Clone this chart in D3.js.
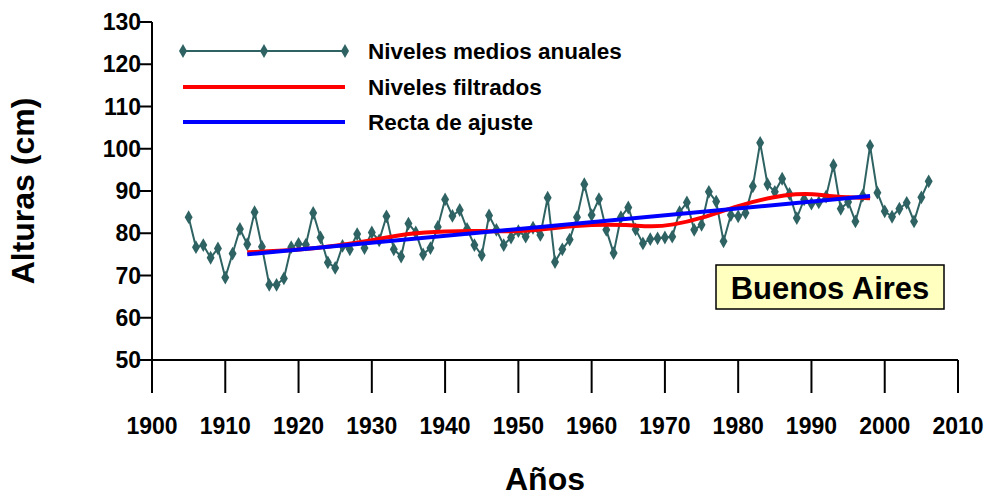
<!DOCTYPE html><html><head><meta charset="utf-8"><script src="https://cdn.jsdelivr.net/npm/d3@7"></script>
<style>body{margin:0;background:#fff}text{font-family:"Liberation Sans",Arial,sans-serif;font-weight:bold}</style></head><body>
<svg id="c" width="990" height="499"></svg>
<script>
const years = d3.range(1905, 2007);
const levels = [83.8,76.7,77.2,74.2,76.4,69.5,75.2,81.0,77.4,85.0,76.8,67.8,67.8,69.3,76.7,77.5,77.3,84.8,79.0,73.1,71.8,77.0,76.2,79.8,76.5,80.2,78.3,84.0,76.2,74.5,82.3,80.2,75.0,76.5,81.5,88.0,84.1,85.5,81.0,77.2,74.8,84.2,80.8,77.2,79.0,80.5,79.2,81.3,79.6,88.4,73.2,76.2,78.5,83.8,91.6,84.3,88.1,80.8,75.3,83.8,86.1,80.9,77.6,78.6,78.8,79.0,79.2,85.0,87.3,80.8,82.0,89.8,87.5,78.1,84.3,84.0,84.8,91.1,101.4,91.6,89.8,92.9,89.3,83.6,88.0,87.0,87.3,88.7,96.1,85.8,87.4,82.8,88.9,100.7,89.6,85.2,83.9,85.8,87.2,82.8,88.5,92.3];
const filtYears = [1913,1920,1925,1930,1935,1940,1945,1950,1955,1960,1965,1968,1971,1975,1980,1985,1988,1990,1993,1998];
const filtVals  = [75.5,76.0,77.0,78.3,80.0,80.5,80.6,80.3,81.3,82.1,82.0,81.5,81.9,83.5,86.6,88.7,89.3,89.4,88.6,88.3];
const fitYears = [1913,1998];
const fitVals = [75.0,88.8];
const xTicks = d3.range(1900,2011,10);
const yTicks = d3.range(50,131,10);
const svg = d3.select("#c");
const x = d3.scaleLinear().domain([1900,2010]).range([152,958]);
const y = d3.scaleLinear().domain([50,130]).range([360,22]);
const g=svg.append("g");
g.append("line").attr("x1",152).attr("x2",152).attr("y1",22).attr("y2",360).attr("stroke","#000").attr("stroke-width",2);
yTicks.forEach(t=>{g.append("line").attr("x1",140).attr("x2",152).attr("y1",y(t)).attr("y2",y(t)).attr("stroke","#000").attr("stroke-width",2);
 g.append("text").attr("x",141).attr("y",y(t)+8).attr("text-anchor","end").attr("font-size",23).text(t);});
g.append("line").attr("x1",152).attr("x2",958).attr("y1",360).attr("y2",360).attr("stroke","#000").attr("stroke-width",2);
xTicks.forEach(t=>{g.append("line").attr("x1",x(t)).attr("x2",x(t)).attr("y1",360).attr("y2",393).attr("stroke","#000").attr("stroke-width",2);
 g.append("text").attr("x",x(t)).attr("y",434).attr("text-anchor","middle").attr("font-size",23).text(t);});
svg.append("text").attr("x",545).attr("y",490).attr("text-anchor","middle").attr("font-size",32).text("Años");
svg.append("text").attr("transform","translate(34,191) rotate(-90)").attr("text-anchor","middle").attr("font-size",32).text("Alturas (cm)");
const line=d3.line().x(d=>x(d[0])).y(d=>y(d[1]));
const pts=years.map((yr,i)=>[yr,levels[i]]);
const col="#2f6363";
svg.append("path").attr("d",line(pts)).attr("fill","none").attr("stroke",col).attr("stroke-width",2);
const diamond=d3.symbol().type(d3.symbolDiamond).size(55);
svg.selectAll(".m").data(pts).enter().append("path").attr("d",diamond).attr("fill",col).attr("transform",d=>`translate(${x(d[0])},${y(d[1])})`);
svg.append("path").attr("d",d3.line().x(d=>x(d[0])).y(d=>y(d[1])).curve(d3.curveBasis)(filtYears.map((yr,i)=>[yr,filtVals[i]]))).attr("fill","none").attr("stroke","#ff0000").attr("stroke-width",4);
svg.append("path").attr("d",line(fitYears.map((yr,i)=>[yr,fitVals[i]]))).attr("fill","none").attr("stroke","#0000ff").attr("stroke-width",4);
svg.append("line").attr("x1",183).attr("x2",345).attr("y1",51).attr("y2",51).attr("stroke",col).attr("stroke-width",2);
[183,264,345].forEach(px=>svg.append("path").attr("d",diamond).attr("fill",col).attr("transform",`translate(${px},51)`));
svg.append("line").attr("x1",183).attr("x2",345).attr("y1",87).attr("y2",87).attr("stroke","#ff0000").attr("stroke-width",4);
svg.append("line").attr("x1",183).attr("x2",345).attr("y1",122).attr("y2",122).attr("stroke","#0000ff").attr("stroke-width",4);
[["Niveles medios anuales",51],["Niveles filtrados",87],["Recta de ajuste",122]].forEach(([t,py])=>svg.append("text").attr("x",368).attr("y",py+8).attr("font-size",22.5).text(t));
svg.append("rect").attr("x",716).attr("y",265).attr("width",228).attr("height",44).attr("fill","#ffffc0").attr("stroke","#000").attr("stroke-width",1.5);
svg.append("text").attr("x",830).attr("y",299).attr("text-anchor","middle").attr("font-size",31).text("Buenos Aires");
</script></body></html>
